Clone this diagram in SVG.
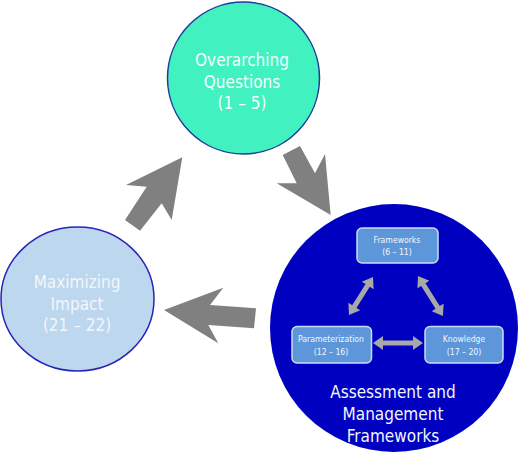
<svg xmlns="http://www.w3.org/2000/svg" width="520" height="459" viewBox="0 0 520 459">
<style>
.big{font-family:"DejaVu Sans Condensed","DejaVu Sans",sans-serif;font-stretch:condensed;font-size:17px;text-anchor:middle}
.small{font-family:"DejaVu Sans Condensed","DejaVu Sans",sans-serif;font-stretch:condensed;font-size:8.6px;text-anchor:middle;fill:#F2F6FC}
.box{fill:#5E96DA;stroke:#C9DBF2;stroke-width:1.5}
.garrow{fill:#808080}
.darrow{fill:#A8A8A8}
</style>
<rect width="520" height="459" fill="#FFFFFF"/>
<g id="connectors">
<polygon class="garrow" points="282.7,155 300,146 315,173.3 325,154 330.7,215 276.7,183.3 296.7,183.3"/>
<polygon class="garrow" points="182.3,157.3 126,185 146.7,186.7 125,220 140,230.7 161.7,203.3 171.7,220"/>
<polygon class="garrow" points="164,310 223.3,287.7 210,305 256,308.3 254,328.3 208.3,325 218.3,343.3"/>
</g>
<g id="overarching">
<circle cx="243.5" cy="78" r="76" fill="#41F1BF" stroke="#1E3C9A" stroke-width="1.5"/>
<text class="big" x="242" y="66" fill="#F4FFFB">Overarching</text>
<text class="big" x="242" y="87.5" fill="#F4FFFB">Questions</text>
<text class="big" x="242" y="109" fill="#F4FFFB">(1 – 5)</text>
</g>
<g id="maximizing">
<ellipse cx="77.5" cy="299" rx="76.5" ry="72" fill="#BDD7EE" stroke="#2626B8" stroke-width="1.5"/>
<text class="big" x="77" y="288" fill="#F2F6FC">Maximizing</text>
<text class="big" x="77" y="309.5" fill="#F2F6FC">Impact</text>
<text class="big" x="77" y="331" fill="#F2F6FC">(21 – 22)</text>
</g>
<g id="assessment">
<circle cx="394" cy="328" r="124" fill="#0000C0"/>
<text class="big" x="393" y="398" fill="#F2F6FC">Assessment and</text>
<text class="big" x="393" y="420" fill="#F2F6FC">Management</text>
<text class="big" x="393" y="442" fill="#F2F6FC">Frameworks</text>
</g>
<g id="inner-connectors">
<polygon class="darrow" transform="translate(361,296) rotate(122.3)" points="-22.5,0 -12.5,-7 -12.5,-2.5 12.5,-2.5 12.5,-7 22.5,0 12.5,7 12.5,2.5 -12.5,2.5 -12.5,7"/>
<polygon class="darrow" transform="translate(430.5,296) rotate(58)" points="-23.5,0 -13.5,-7 -13.5,-2.5 13.5,-2.5 13.5,-7 23.5,0 13.5,7 13.5,2.5 -13.5,2.5 -13.5,7"/>
<polygon class="darrow" transform="translate(398,343)" points="-25,0 -15,-7 -15,-2.5 15,-2.5 15,-7 25,0 15,7 15,2.5 -15,2.5 -15,7"/>
</g>
<g id="frameworks">
<rect class="box" x="357" y="228" width="81" height="35" rx="5"/>
<text class="small" x="397" y="243">Frameworks</text>
<text class="small" x="397" y="255">(6 – 11)</text>
</g>
<g id="parameterization">
<rect class="box" x="292" y="326.5" width="79.5" height="36.5" rx="5"/>
<text class="small" x="331" y="342">Parameterization</text>
<text class="small" x="331" y="355">(12 – 16)</text>
</g>
<g id="knowledge">
<rect class="box" x="425" y="326.5" width="78" height="36.5" rx="5"/>
<text class="small" x="464" y="342">Knowledge</text>
<text class="small" x="464" y="355">(17 – 20)</text>
</g>
</svg>
